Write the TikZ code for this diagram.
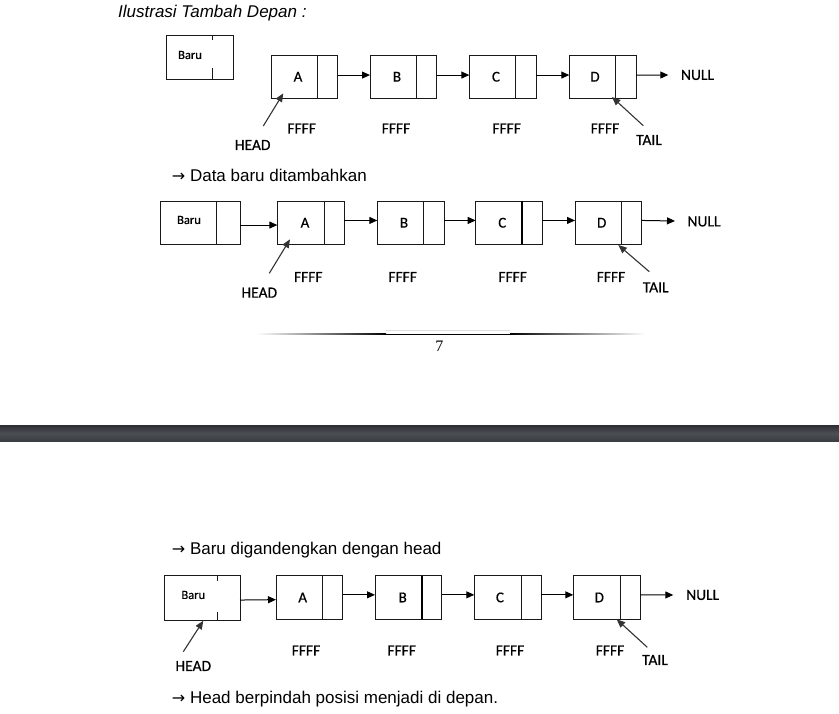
\documentclass[tikz,border=0pt]{standalone}
\usepackage{fontspec}
\setmainfont{Liberation Sans}
\newfontfamily\calfont[FakeBold=0.5]{Carlito}
\newfontfamily\pgserif{Liberation Serif}
\newfontfamily\arrfont{DejaVu Sans}
\usetikzlibrary{arrows.meta}
\definecolor{bartop}{HTML}{2E3135}
\definecolor{barmid}{HTML}{4B4E52}
\definecolor{barbot}{HTML}{3A3D41}
\tikzset{
  cellbox/.style={draw=black!90, line width=0.95pt, minimum width=66.7pt, minimum height=43.5pt, inner sep=0pt, outer sep=0pt},
  divider/.style={draw=black!90, line width=0.95pt},
  thickdiv/.style={draw=black, line width=1.9pt},
  celltext/.style={font=\calfont\fontsize{15}{17}\selectfont, inner sep=0pt},
  barutext/.style={font=\calfont\fontsize{12.5}{14}\selectfont, inner sep=0pt},
  lbl/.style={font=\calfont\fontsize{15.5}{17}\selectfont, inner sep=0pt},
  heading/.style={font=\fontsize{17}{20}\selectfont, inner sep=0pt, anchor=west},
  link/.style={draw=black, line width=1pt, -{Triangle[length=8pt,width=7pt]}},
  ptr/.style={draw=black!80, line width=1.1pt, -{Triangle[length=8.5pt,width=7pt]}}
}
\newcommand{\rarr}{{\arrfont\fontsize{16}{20}\selectfont →}}
% name, left x, top y, divider offset, text, text offset, divider style
\newcommand{\llcell}[7]{%
  \node[cellbox, anchor=north west] (#1) at (#2,#3) {};
  \draw[#7] ([xshift=#4pt]#1.north west) -- ([xshift=#4pt]#1.south west);
  \node[celltext] (#1-t) at ([xshift=#6pt]#1.west) {#5};
}
\begin{document}
\begin{tikzpicture}[x=1pt,y=-1pt]
\useasboundingbox (0,0) rectangle (839,714);

% ================= Diagram 1 =================
\node[heading, font=\fontsize{17}{20}\selectfont\itshape] (title) at (118,13) {Ilustrasi Tambah Depan :};

\node[cellbox, anchor=north west, minimum width=66.6pt] (b1) at (166.7,35.7) {};
\draw[divider] ([xshift=46pt]b1.north west) -- ([xshift=46pt,yshift=-4.5pt]b1.north west);
\draw[divider] ([xshift=46pt]b1.south west) -- ([xshift=46pt,yshift=11pt]b1.south west);
\node[barutext] (b1-t) at (190,55) {Baru};

\llcell{a1}{271}{55}{46.3}{A}{27}{divider}
\llcell{bb1}{370}{55}{46.7}{B}{27}{divider}
\llcell{c1}{469.3}{55}{46.4}{C}{26.7}{divider}
\llcell{d1}{569.3}{55}{46.4}{D}{25.7}{divider}
\coordinate (n1) at (668.3,75);
\node[lbl] (null1) at (697.5,75) {NULL};
\draw[link] ([yshift=1.7pt]a1.east) -- ([yshift=1.7pt]bb1.west);
\draw[link] ([yshift=1.7pt]bb1.east) -- ([yshift=1.7pt]c1.west);
\draw[link] ([yshift=1.7pt]c1.east) -- ([yshift=1.7pt]d1.west);
\draw[link] ([yshift=1.7pt]d1.east) -- (n1);

\node[lbl] (f1a) at (301.7,128.5) {FFFF};
\node[lbl] (f1b) at (396,128.5) {FFFF};
\node[lbl] (f1c) at (506.7,128.5) {FFFF};
\node[lbl] (f1d) at (605,128.5) {FFFF};

\node[lbl] (head1) at (252.7,145) {HEAD};
\coordinate (h1s) at (263.3,126);
\coordinate (h1e) at (283.3,93.3);
\draw[ptr] (h1s) -- (h1e);
\node[lbl] (tail1) at (649,140) {TAIL};
\coordinate (t1s) at (643.3,125.7);
\coordinate (t1e) at (612,97);
\draw[ptr] (t1s) -- (t1e);

% ================= Diagram 2 =================
\node[heading] (step1) at (171.7,175) {\rarr\ Data baru ditambahkan};

\node[cellbox, anchor=north west, minimum width=79.3pt] (b2) at (160.7,201) {};
\draw[divider] ([xshift=56pt]b2.north west) -- ([xshift=56pt]b2.south west);
\node[barutext] (b2-t) at (189,220) {Baru};
\llcell{a2}{277.3}{201}{46.7}{A}{27.7}{divider}
\llcell{bb2}{377.3}{201}{46}{B}{26.7}{divider}
\llcell{c2}{475.7}{201}{46.6}{C}{26.6}{thickdiv}
\llcell{d2}{575}{201}{46.7}{D}{26.7}{divider}
\coordinate (n2) at (675,221);
\node[lbl] (null2) at (704,221.5) {NULL};
\draw[link] ([yshift=-2.3pt]b2.east) -- ([yshift=-2.3pt]a2.west);
\draw[link] ([yshift=2.3pt]a2.east) -- ([yshift=2.3pt]bb2.west);
\draw[link] ([yshift=2.3pt]bb2.east) -- ([yshift=2.3pt]c2.west);
\draw[link] ([yshift=2.3pt]c2.east) -- ([yshift=2.3pt]d2.west);
\draw[link] ([yshift=2.3pt]d2.east) -- (n2);

\node[lbl] (f2a) at (308.3,277) {FFFF};
\node[lbl] (f2b) at (402.7,277) {FFFF};
\node[lbl] (f2c) at (512.7,277) {FFFF};
\node[lbl] (f2d) at (611,277) {FFFF};

\node[lbl] (head2) at (259.3,292.7) {HEAD};
\coordinate (h2s) at (269.3,273.3);
\coordinate (h2e) at (290,239.3);
\draw[ptr] (h2s) -- (h2e);
\node[lbl] (tail2) at (655.7,287.3) {TAIL};
\coordinate (t2s) at (649.3,271.7);
\coordinate (t2e) at (618.3,245);
\draw[ptr] (t2s) -- (t2e);

% page footer line and number
\draw[black!12, line width=0.6pt] (386,330) -- (510,330);
\shade[left color=white, right color=black] (256.7,333.6) rectangle (386,334.9);
\fill[black] (386,333.6) rectangle (510,334.9);
\shade[left color=black, right color=white] (510,333.6) rectangle (645,334.9);
\node[font=\pgserif\fontsize{16}{18}\selectfont, inner sep=0pt] (pg) at (439.3,346) {7};

% dark separator bar
\shade[top color=bartop, bottom color=barbot, middle color=barmid] (0,425.7) rectangle (839,441);

% ================= Diagram 3 =================
\node[heading] (step2) at (171.7,550) {\rarr\ Baru digandengkan dengan head};

\node[cellbox, anchor=north west, minimum width=75.7pt, minimum height=44.3pt] (b3) at (164.3,575.7) {};
\draw[divider] ([xshift=53pt]b3.north west) -- ([xshift=53pt,yshift=-5.3pt]b3.north west);
\draw[divider] ([xshift=53pt]b3.south west) -- ([xshift=53pt,yshift=8pt]b3.south west);
\node[barutext] (b3-t) at (193.3,595) {Baru};

\llcell{a3}{276}{575.7}{46.3}{A}{26.7}{divider}
\llcell{bb3}{375}{575.7}{46.7}{B}{27.7}{thickdiv}
\llcell{c3}{474.3}{575.7}{46.7}{C}{25.7}{divider}
\llcell{d3}{573.3}{575.7}{46.7}{D}{26}{divider}
\coordinate (n3) at (673.3,595);
\node[lbl] (null3) at (702.7,595) {NULL};
\draw[link] ([yshift=-2.2pt]b3.east) -- ([yshift=-2.2pt]a3.west);
\draw[link] ([yshift=2.6pt]a3.east) -- ([yshift=2.6pt]bb3.west);
\draw[link] ([yshift=2.6pt]bb3.east) -- ([yshift=2.6pt]c3.west);
\draw[link] ([yshift=2.6pt]c3.east) -- ([yshift=2.6pt]d3.west);
\draw[link] ([yshift=2.6pt]d3.east) -- (n3);

\node[lbl] (f3a) at (306,650.5) {FFFF};
\node[lbl] (f3b) at (401.7,650.5) {FFFF};
\node[lbl] (f3c) at (510,650.5) {FFFF};
\node[lbl] (f3d) at (610,650.5) {FFFF};

\node[lbl] (head3) at (193.3,666) {HEAD};
\coordinate (h3s) at (183.3,651.7);
\coordinate (h3e) at (203.3,620.7);
\draw[ptr] (h3s) -- (h3e);
\node[lbl] (tail3) at (655,660) {TAIL};
\coordinate (t3s) at (647.3,647.3);
\coordinate (t3e) at (616.7,619.3);
\draw[ptr] (t3s) -- (t3e);

\node[heading] (step3) at (171.7,699.3) {\rarr\ Head berpindah posisi menjadi di depan.};
\end{tikzpicture}
\end{document}
